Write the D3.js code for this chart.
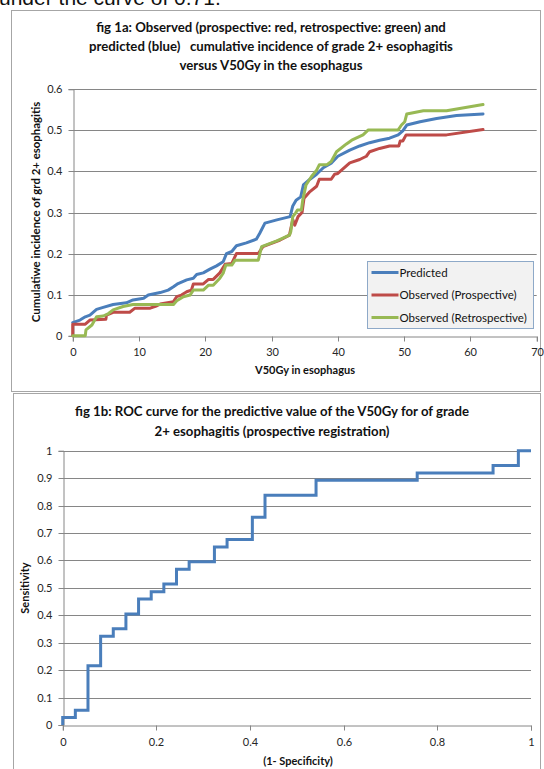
<!DOCTYPE html>
<html>
<head>
<meta charset="utf-8">
<script src="https://cdn.jsdelivr.net/npm/d3@7"></script>
<style>
  html, body { margin: 0; padding: 0; background: #fff; }
  svg { display: block; }
  text { font-family: Lato, "Open Sans", sans-serif; }
</style>
</head>
<body>
<script>
// ---- Figure 1a: cumulative incidence of grade 2+ esophagitis vs V50Gy ----
const predX = [0, 1.1, 1.9, 2.6, 3.6, 4.6, 6.1, 8.1, 9.1, 10.7, 11.4, 13.2, 14.4, 15.2, 15.9, 17.2, 18.2, 18.7, 19.7, 20.7, 21.7, 22.7, 23.2, 24.0, 24.7, 26.2, 27.7, 28.2, 29.0, 30.8, 32.8, 33.2, 33.7, 34.4, 34.8, 35.8, 36.8, 37.8, 39.0, 40.0, 41.8, 43.3, 44.8, 46.3, 47.8, 49.1, 49.8, 50.4, 52.4, 54.9, 57.9, 61.9];
const predY = [0.032, 0.038, 0.046, 0.050, 0.064, 0.069, 0.076, 0.080, 0.087, 0.091, 0.099, 0.105, 0.111, 0.119, 0.127, 0.136, 0.140, 0.149, 0.153, 0.162, 0.170, 0.180, 0.200, 0.205, 0.219, 0.226, 0.235, 0.249, 0.274, 0.282, 0.290, 0.316, 0.330, 0.338, 0.367, 0.381, 0.393, 0.409, 0.420, 0.437, 0.452, 0.462, 0.470, 0.476, 0.481, 0.489, 0.499, 0.513, 0.521, 0.529, 0.536, 0.540];

const prospX = [0, 0, 1.9, 2.6, 5.0, 5.1, 6.1, 8.6, 9.4, 11.7, 12.7, 13.2, 15.2, 15.7, 16.4, 17.2, 17.9, 18.2, 19.7, 20.5, 21.2, 22.2, 23.0, 24.0, 24.7, 28.0, 28.7, 31.3, 32.7, 33.2, 33.5, 34.0, 34.6, 34.9, 35.8, 36.8, 37.2, 39.0, 39.5, 40.0, 41.8, 43.3, 44.3, 44.8, 46.3, 47.8, 49.2, 49.4, 49.8, 50.3, 56.4, 61.9];
const prospY = [0, 0.028, 0.028, 0.038, 0.040, 0.050, 0.057, 0.057, 0.067, 0.067, 0.073, 0.077, 0.083, 0.095, 0.099, 0.107, 0.111, 0.126, 0.126, 0.137, 0.137, 0.153, 0.174, 0.176, 0.200, 0.200, 0.217, 0.233, 0.245, 0.283, 0.269, 0.290, 0.300, 0.335, 0.351, 0.364, 0.381, 0.381, 0.393, 0.395, 0.421, 0.429, 0.437, 0.448, 0.456, 0.462, 0.462, 0.474, 0.474, 0.489, 0.489, 0.502];

const retroX = [0, 1.9, 2.0, 2.9, 3.6, 4.6, 5.4, 6.1, 7.6, 9.1, 15.2, 15.7, 16.7, 17.7, 18.2, 19.7, 20.5, 21.2, 22.2, 22.7, 23.1, 24.0, 24.5, 28.0, 28.5, 30.8, 32.7, 32.9, 33.2, 33.6, 33.9, 34.5, 34.7, 35.2, 36.0, 36.8, 37.2, 38.3, 39.0, 39.8, 41.3, 42.1, 43.8, 44.6, 49.1, 49.6, 50.1, 50.4, 52.9, 56.4, 61.9];
const retroY = [0, 0, 0.014, 0.026, 0.046, 0.048, 0.054, 0.063, 0.071, 0.076, 0.076, 0.085, 0.095, 0.099, 0.111, 0.111, 0.123, 0.123, 0.140, 0.152, 0.172, 0.172, 0.184, 0.184, 0.217, 0.231, 0.245, 0.253, 0.290, 0.298, 0.306, 0.306, 0.330, 0.367, 0.387, 0.403, 0.416, 0.416, 0.424, 0.448, 0.467, 0.476, 0.489, 0.501, 0.501, 0.513, 0.521, 0.540, 0.548, 0.548, 0.563];

const seriesNames = ["Predicted", "Observed (Prospective)", "Observed (Retrospective)"];
const seriesColors = ["#4a7ebb", "#be4b48", "#98b954"];
const x1Ticks = [0, 10, 20, 30, 40, 50, 60, 70];
const y1Ticks = [0, 0.1, 0.2, 0.3, 0.4, 0.5, 0.6];
const title1 = [
  "fig 1a: Observed (prospective: red, retrospective: green) and",
  "predicted (blue)   cumulative incidence of grade 2+ esophagitis",
  "versus V50Gy in the esophagus"
];

// ---- Figure 1b: ROC curve (step corners, false positive rate / sensitivity) ----
const rocFpr = [0, 0, 0.027, 0.054, 0.081, 0.108, 0.135, 0.162, 0.189, 0.216, 0.243, 0.270, 0.324, 0.351, 0.405, 0.432, 0.541, 0.757, 0.919, 0.973, 1.0];
const rocTpr = [0, 0.027, 0.054, 0.216, 0.324, 0.351, 0.405, 0.459, 0.486, 0.514, 0.568, 0.595, 0.649, 0.676, 0.757, 0.838, 0.892, 0.919, 0.946, 1.0, 1.0];
const x2Ticks = [0, 0.2, 0.4, 0.6, 0.8, 1];
const y2Ticks = [0, 0.1, 0.2, 0.3, 0.4, 0.5, 0.6, 0.7, 0.8, 0.9, 1];
const title2 = [
  "fig 1b: ROC curve for the predictive value of the V50Gy for of grade",
  "2+ esophagitis (prospective registration)"
];

const W = 544, H = 769;
const gridColor = "#868686";
const labelColor = "#262626";

const svg = d3.select("body").append("svg")
  .attr("width", W).attr("height", H)
  .attr("viewBox", `0 0 ${W} ${H}`);

svg.append("rect").attr("width", W).attr("height", H).attr("fill", "#fff");

// text of the surrounding page, cut off at the top edge
svg.append("text")
  .attr("x", -1).attr("y", 5)
  .style("font-family", "'Liberation Sans', Arial, sans-serif")
  .style("font-size", "21px")
  .attr("fill", "#111")
  .text("under the curve of 0.71.");

function drawAxes(g, x, y, xTicks, yTicks, xFmt, yFmt, xPad) {
  // horizontal gridlines
  g.append("g").selectAll("line")
    .data(yTicks.filter(d => d > 0))
    .join("line")
    .attr("x1", x.range()[0]).attr("x2", x.range()[1])
    .attr("y1", d => Math.round(y(d)) + 0.5).attr("y2", d => Math.round(y(d)) + 0.5)
    .attr("stroke", gridColor).attr("stroke-width", 1);

  const ya = g.append("g")
    .attr("transform", `translate(${Math.round(x.range()[0]) + 0.5},0)`)
    .call(d3.axisLeft(y).tickValues(yTicks).tickFormat(yFmt).tickSize(5).tickPadding(6));
  const xa = g.append("g")
    .attr("transform", `translate(0,${Math.round(y.range()[0]) + 0.5})`)
    .call(d3.axisBottom(x).tickValues(xTicks).tickFormat(xFmt).tickSize(5).tickPadding(xPad));
  [ya, xa].forEach(a => {
    a.select(".domain").attr("stroke", gridColor);
    a.selectAll(".tick line").attr("stroke", gridColor);
    a.selectAll(".tick text")
      .attr("fill", labelColor)
      .style("font-family", "Lato, sans-serif")
      .style("font-size", "11px");
  });
  // keep tick lines on whole pixels
  ya.selectAll(".tick").attr("transform", d => `translate(0,${Math.round(y(d)) + 0.5})`);
  xa.selectAll(".tick").attr("transform", d => `translate(${Math.round(x(d)) + 0.5},0)`);
}

function drawTitle(lines, cx, baseY, step) {
  svg.append("g").selectAll("text")
    .data(lines)
    .join("text")
    .attr("x", cx).attr("y", (d, i) => baseY + i * step)
    .attr("text-anchor", "middle")
    .style("font-weight", "bold")
    .style("font-size", "13.2px")
    .style("white-space", "pre")
    .attr("fill", "#111")
    .text(d => d);
}

// ===== Chart 1a =====
svg.append("rect")
  .attr("x", 11.5).attr("y", 10.5).attr("width", 529).attr("height", 381)
  .attr("fill", "#fff").attr("stroke", "#a6a6a6");

drawTitle(title1, 271, 32, 19);

const x1 = d3.scaleLinear().domain([0, 70]).range([72.7, 536.7]);
const y1 = d3.scaleLinear().domain([0, 0.6]).range([335.7, 89.3]);
const g1 = svg.append("g");
drawAxes(g1, x1, y1, x1Ticks, y1Ticks, d => String(d), d => String(+d.toFixed(1)), 7);

const seriesData = [
  predX.map((v, i) => [v, predY[i]]),
  prospX.map((v, i) => [v, prospY[i]]),
  retroX.map((v, i) => [v, retroY[i]])
];
const line1 = d3.line().x(d => x1(d[0])).y(d => y1(d[1]));
g1.append("g").selectAll("path")
  .data(seriesData)
  .join("path")
  .attr("d", line1)
  .attr("fill", "none")
  .attr("stroke", (d, i) => seriesColors[i])
  .attr("stroke-width", 3)
  .attr("stroke-linejoin", "round")
  .attr("stroke-linecap", "round");

svg.append("text")
  .attr("x", 305).attr("y", 373.5)
  .attr("text-anchor", "middle")
  .style("font-weight", "bold").style("font-size", "11px")
  .attr("fill", "#111")
  .text("V50Gy in esophagus");

svg.append("text")
  .attr("transform", "translate(39.5,212) rotate(-90)")
  .attr("text-anchor", "middle")
  .style("font-weight", "bold").style("font-size", "11.4px")
  .attr("fill", "#111")
  .text("Cumulatiwe incidence of grd 2+ esophagitis");

// legend
const legend = svg.append("g").attr("transform", "translate(367.5,261.5)");
legend.append("rect")
  .attr("width", 166).attr("height", 67)
  .attr("fill", "#f2f2f2").attr("stroke", "#8ea9c8");
const rows = legend.selectAll("g.row")
  .data(seriesNames)
  .join("g").attr("class", "row")
  .attr("transform", (d, i) => `translate(0,${11 + i * 22.5})`);
rows.append("line")
  .attr("x1", 4).attr("x2", 31)
  .attr("stroke", (d, i) => seriesColors[i])
  .attr("stroke-width", 3);
rows.append("text")
  .attr("x", 32).attr("dy", "0.35em")
  .style("font-size", "11.5px")
  .attr("fill", "#111")
  .text(d => d);

// ===== Chart 1b =====
svg.append("rect")
  .attr("x", 13.5).attr("y", 393.5).attr("width", 527).attr("height", 400)
  .attr("fill", "#fff").attr("stroke", "#a6a6a6");

drawTitle(title2, 272, 415.5, 20);

const x2 = d3.scaleLinear().domain([0, 1]).range([62.7, 531]);
const y2 = d3.scaleLinear().domain([0, 1]).range([725, 450.7]);
const g2 = svg.append("g");
drawAxes(g2, x2, y2, x2Ticks, y2Ticks, d => String(+d.toFixed(1)), d => String(+d.toFixed(1)), 8);

const roc = rocFpr.map((v, i) => [v, rocTpr[i]]);
g2.append("path")
  .datum(roc)
  .attr("d", d3.line().x(d => x2(d[0])).y(d => y2(d[1])).curve(d3.curveStepAfter))
  .attr("fill", "none")
  .attr("stroke", "#4a7ebb")
  .attr("stroke-width", 3)
  .attr("stroke-linejoin", "miter");

svg.append("text")
  .attr("x", 298).attr("y", 765)
  .attr("text-anchor", "middle")
  .style("font-weight", "bold").style("font-size", "11px")
  .attr("fill", "#111")
  .text("(1- Specificity)");

svg.append("text")
  .attr("transform", "translate(28.5,588) rotate(-90)")
  .attr("text-anchor", "middle")
  .style("font-weight", "bold").style("font-size", "11px")
  .attr("fill", "#111")
  .text("Sensitivity");
</script>
</body>
</html>
